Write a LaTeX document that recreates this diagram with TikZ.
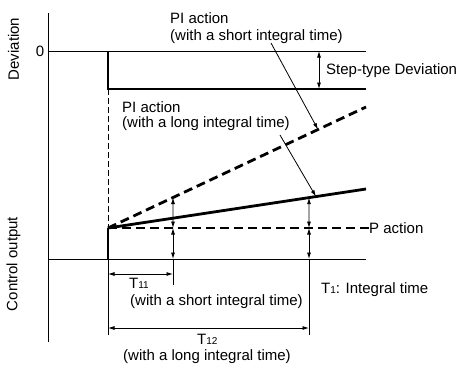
\documentclass[tikz,border=0pt]{standalone}
\usepackage{fontspec}
\setmainfont{Liberation Sans}
\usetikzlibrary{arrows.meta}

\newcommand{\lowidx}[1]{\raisebox{-0.6pt}{\fontsize{10}{12}\selectfont #1}}

\begin{document}
\begin{tikzpicture}[x=1pt,y=-1pt,
		lbl/.style={font=\fontsize{15}{17}\selectfont, inner sep=0pt},
		thinline/.style={line width=0.9pt},
		thickline/.style={line width=2.8pt},
		thickdash/.style={line width=2.8pt, dash pattern=on 9pt off 5pt},
		dim/.style={line width=0.8pt, {Latex[length=6.5pt,width=4pt]}-{Latex[length=6.5pt,width=4pt]}},
		pointer/.style={line width=0.8pt, -{Latex[length=6.5pt,width=4pt]}}]
	\useasboundingbox (0,0) rectangle (457,365);
	
	\foreach \n/\x/\y in
	{top/48/13, bot/48/342, dz0/48/51, dz1/366/51, st0/108/51, st1/108/89, dev1/366/89,
		cz0/48/259, cz1/366/259, o0/108/259, o1/108/228, vend/108/335,
		short1/366/107, long1/366/189,
		c11/173/259, p11/173/228, e11/173/285, c12/309/259, p12/309/228, e12/309/335,
		d11a/108/274, d11b/173/274, d12a/108/328, d12b/309/328,
		sd0/319/51, sd1/319/89, ps/271/43, pl/280/135}{
		\coordinate (\n) at (\x,\y);
	}
	
	% axes
	\draw[thinline] (top) -- (bot);
	\draw[thinline] (dz0) -- (dz1);
	\draw[thinline] (cz0) -- (cz1);
	
	% step of the deviation
	\draw[thickline] (st0) -- (st1) -- (dev1);
	\draw[thinline, dash pattern=on 6pt off 3pt] (st1) -- (o1);
	\draw[thinline] (o0) -- (vend);
	\draw[dim] (sd0) -- (sd1);
	
	% control output
	\path (o1) -- (short1) coordinate[pos=0.252] (s11) coordinate[pos=0.814] (s18);
	\path (o1) -- (long1) coordinate[pos=0.779] (l12) coordinate[pos=0.806] (l16);
	\node[lbl, anchor=west] (paction) at (369,228) {P action};
	\draw[thickdash] (o1) -- (paction.west);
	\draw[thickdash] (o1) -- (short1);
	\draw[thickline] (o1) -- (long1);
	\draw[thickline] (o0) -- (o1);
	
	% integral times
	\draw[dim] (c11) -- (p11);
	\draw[dim] (p11) -- (s11);
	\draw[thinline] (c11) -- (e11);
	\draw[dim] (c12) -- (p12);
	\draw[dim] (p12) -- (l12);
	\draw[thinline] (c12) -- (e12);
	\draw[dim] (d11a) -- (d11b);
	\draw[dim] (d12a) -- (d12b);
	
	% labels
	\node[lbl, anchor=east] (zero) at (44.5,51) {0};
	\node[lbl, rotate=90] (devlbl) at (13.5,49) {Deviation};
	\node[lbl, rotate=90] (outlbl) at (13.5,264) {Control output};
	\node[lbl, anchor=base west] (steplbl) at (326,74) {Step-type Deviation};
	\node[lbl, anchor=base west] (pis1) at (170,23) {PI action};
	\node[lbl, anchor=base west] (pis2) at (170,40) {(with a short integral time)};
	\node[lbl, anchor=base west] (pil1) at (122,112) {PI action};
	\node[lbl, anchor=base west] (pil2) at (122,127) {(with a long integral time)};
	\node[lbl, anchor=base west] (t11) at (129,288) {T\lowidx{11}};
	\node[lbl, anchor=base west] (t11b) at (130,305) {(with a short integral time)};
	\node[lbl, anchor=base west] (t12) at (197,344) {T\lowidx{12}};
	\node[lbl, anchor=base west] (t12b) at (123,360) {(with a long integral time)};
	\node[lbl, anchor=base west] (t1) at (321,293) {T\lowidx{1}: Integral time};
	
	\draw[pointer] (ps) -- (s18);
	\draw[pointer] (pl) -- (l16);
\end{tikzpicture}
\end{document}
